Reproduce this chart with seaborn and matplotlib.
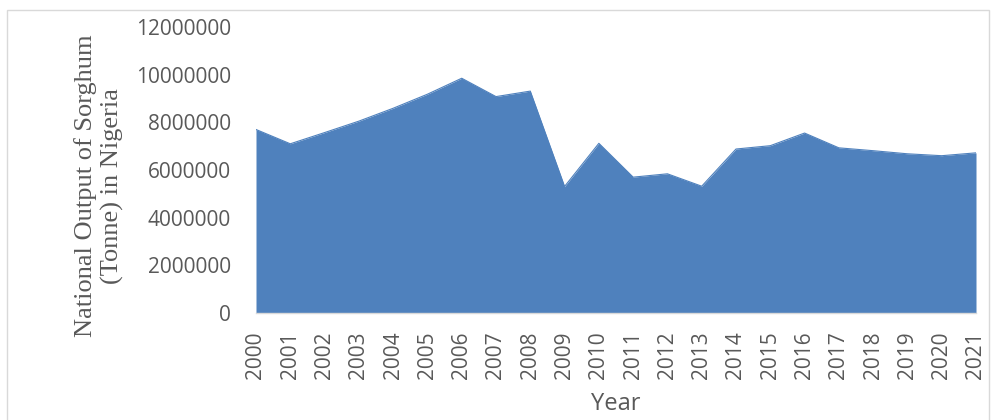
import matplotlib
matplotlib.use("Agg")
import matplotlib.pyplot as plt
import matplotlib.patches as mpatches
import seaborn as sns
import pandas as pd

# Annual sorghum output in Nigeria (tonnes)
years = [str(y) for y in range(2000, 2022)]
output_tonnes = [
    7700000, 7100000, 7570000, 8050000, 8590000, 9180000, 9850000, 9080000,
    9310000, 5310000, 7120000, 5700000, 5840000, 5320000, 6880000, 7020000,
    7550000, 6930000, 6810000, 6680000, 6600000, 6720000,
]
y_ticks = [0, 2000000, 4000000, 6000000, 8000000, 10000000, 12000000]

df = pd.DataFrame({"Year": years, "Output": output_tonnes})
df["pos"] = range(len(df))

sns.set_theme(style="white")
plt.rcParams["font.family"] = ["Open Sans", "DejaVu Sans"]

fill_color = "#4F81BD"
text_gray = "#595959"
axis_gray = "#D9D9D9"

fig = plt.figure(figsize=(9.91, 4.2), dpi=100)
W, H = 991, 420
ax = fig.add_axes([256 / W, (H - 313) / H, (976 - 256) / W, (313 - 27) / H])

ax.fill_between(df["pos"], 0, df["Output"], color=fill_color, linewidth=0)
sns.lineplot(data=df, x="pos", y="Output", ax=ax, color=fill_color, linewidth=0.8)

ax.set_xlim(0, len(df) - 1)
ax.set_ylim(0, 12000000)
ax.set_yticks(y_ticks)
ax.set_yticklabels([str(v) for v in y_ticks], fontsize=15, color=text_gray)
ax.set_xticks(df["pos"])
ax.set_xticklabels(df["Year"], rotation=90, fontsize=15, color=text_gray)

ax.tick_params(axis="y", length=0, pad=18)
ax.tick_params(axis="x", length=6, width=1, color=axis_gray, pad=7, direction="out")

for side in ["top", "right", "left"]:
    ax.spines[side].set_visible(False)
ax.spines["bottom"].set_color(axis_gray)
ax.spines["bottom"].set_linewidth(1)

ax.set_xlabel("")
ax.set_ylabel("")
fig.text(616 / W, 1 - 410 / H, "Year", ha="center", va="baseline",
         fontsize=17, color=text_gray)

fig.text(99 / W, 1 - 186 / H, "National Output of Sorghum\n(Tonne) in Nigeria",
         rotation=90, ha="center", va="center", fontsize=19, color=text_gray,
         family=["Liberation Serif", "DejaVu Serif"], linespacing=1.2)

# Chart area border
border = mpatches.Rectangle((7 / W, -0.05), (989 - 7) / W, 1.05 - 10 / H,
                            transform=fig.transFigure, fill=False,
                            edgecolor=axis_gray, linewidth=1)
fig.patches.append(border)

fig.savefig("out.png", dpi=100)
